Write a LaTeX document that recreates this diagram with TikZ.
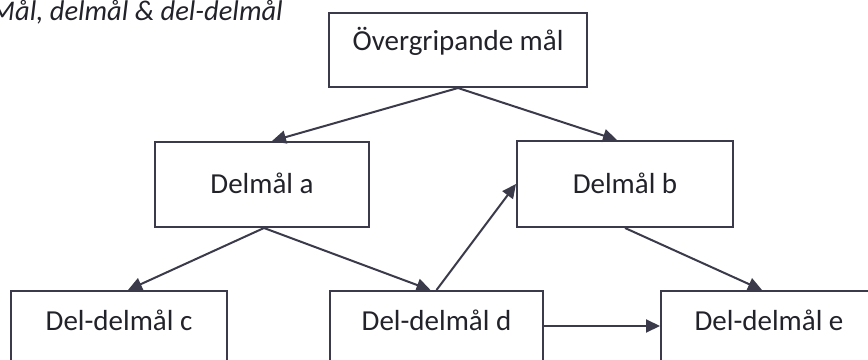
\documentclass[tikz,border=0pt]{standalone}
\usepackage{fontspec}
\setmainfont{Carlito}
\usetikzlibrary{arrows.meta}
\definecolor{lc}{RGB}{58,58,74}
\definecolor{tc}{RGB}{34,34,42}
\tikzset{
  goalbox/.style={draw=lc, line width=2pt, rectangle, inner sep=0pt},
  lbl/.style={anchor=base, text=tc, font=\fontsize{29}{34}\selectfont, inner sep=0pt},
  conn/.style={draw=lc, line width=2pt, -{Triangle[length=14pt,width=13pt]}}
}
\begin{document}
\begin{tikzpicture}[x=1pt,y=-1pt]
\useasboundingbox (0,0) rectangle (868,359);
\clip (0,0) rectangle (868,359);
\fill[white] (0,0) rectangle (868,359);
% title
\node[anchor=base east, text=tc, font=\fontsize{28.5}{34}\selectfont\itshape, inner sep=0pt] (title) at (283,20) {Mål, delmål \& del-delmål};
% boxes
\node[goalbox, minimum width=258pt, minimum height=74pt] (top) at (458,50) {};
\node[goalbox, minimum width=214pt, minimum height=85pt] (a) at (262,184.5) {};
\node[goalbox, minimum width=216pt, minimum height=86pt] (b) at (625,184) {};
\node[goalbox, minimum width=216pt, minimum height=70pt] (c) at (119,326) {};
\node[goalbox, minimum width=213pt, minimum height=70pt] (d) at (436.5,326) {};
\node[goalbox, minimum width=216pt, minimum height=70pt] (e) at (769,326) {};
% labels
\node[lbl] (ttop) at (458,50) {Övergripande mål};
\node[lbl] (ta) at (262,193) {Delmål a};
\node[lbl] (tb) at (625,193) {Delmål b};
\node[lbl] (tc) at (119,330) {Del-delmål c};
\node[lbl] (td) at (436.5,330) {Del-delmål d};
\node[lbl] (te) at (769,330) {Del-delmål e};
% connectors
\draw[conn] (top.south) -- ([xshift=10pt]a.north);
\draw[conn] (top.south) -- ([xshift=-8pt]b.north);
\draw[conn] ([xshift=2pt]a.south) -- ([xshift=9pt]c.north);
\draw[conn] ([xshift=2pt]a.south) -- ([xshift=-6pt]d.north);
\draw[conn] (d.north) -- (b.west);
\draw[conn] (b.south) -- ([xshift=-7pt]e.north);
\draw[conn] (d.east) -- (e.west);
\end{tikzpicture}
\end{document}
